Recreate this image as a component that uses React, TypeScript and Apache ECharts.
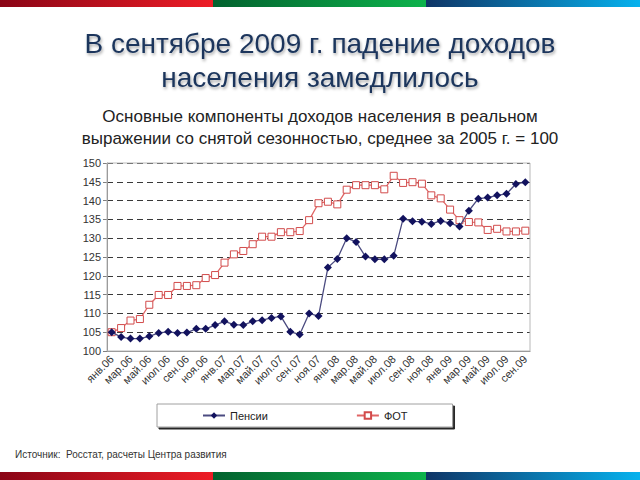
import React, { useEffect, useRef } from "react";
import * as echarts from "echarts";

const months = [
  "янв.06","фев.06","мар.06","апр.06","май.06","июн.06","июл.06","авг.06","сен.06","окт.06","ноя.06","дек.06",
  "янв.07","фев.07","мар.07","апр.07","май.07","июн.07","июл.07","авг.07","сен.07","окт.07","ноя.07","дек.07",
  "янв.08","фев.08","мар.08","апр.08","май.08","июн.08","июл.08","авг.08","сен.08","окт.08","ноя.08","дек.08",
  "янв.09","фев.09","мар.09","апр.09","май.09","июн.09","июл.09","авг.09","сен.09",
];

const pensions = [
  105.0, 103.7, 103.3, 103.3, 103.9, 104.8, 105.1, 104.8, 104.9, 105.9, 105.9, 106.9,
  107.9, 107.0, 106.9, 107.9, 108.2, 108.8, 109.2, 105.1, 104.4, 110.0, 109.3, 122.2,
  124.5, 130.0, 129.0, 125.1, 124.4, 124.4, 125.3, 135.2, 134.5, 134.4, 133.8, 134.6,
  134.0, 133.1, 137.3, 140.5, 140.8, 141.4, 141.8, 144.4, 144.9,
];

const fot = [
  105.0, 106.1, 108.1, 108.5, 112.3, 114.9, 114.9, 117.3, 117.3, 117.5, 119.4, 120.2,
  123.5, 125.7, 126.6, 128.4, 130.4, 130.4, 131.6, 131.6, 131.9, 134.8, 139.3, 139.7,
  139.0, 142.9, 144.1, 144.1, 144.1, 143.0, 146.6, 144.7, 144.9, 144.5, 141.4, 140.6,
  137.6, 134.8, 134.3, 134.2, 132.2, 132.5, 131.8, 131.8, 132.0,
];

const seriesNames = ["Пенсии", "ФОТ"];
const titleLines = ["В сентябре 2009 г. падение доходов", "населения замедлилось"];
const subtitleLines = [
  "Основные компоненты доходов населения в реальном",
  "выражении со снятой сезонностью, среднее за 2005 г. = 100",
];
const sourceText = "Источник:  Росстат, расчеты Центра развития";

const FONT = "'Liberation Sans', Arial, sans-serif";

function stripe(y: number, h: number) {
  const grad = (a: string, b: string) =>
    new echarts.graphic.LinearGradient(0, 0, 1, 0, [
      { offset: 0, color: a },
      { offset: 1, color: b },
    ]);
  return [
    { type: "rect", shape: { x: 0, y, width: 214, height: h }, style: { fill: grad("#8a0516", "#ee1d26") }, silent: true },
    { type: "rect", shape: { x: 213, y, width: 214, height: h }, style: { fill: grad("#03622f", "#0db34c") }, silent: true },
    { type: "rect", shape: { x: 426, y, width: 214, height: h }, style: { fill: grad("#0f3566", "#06b2ee") }, silent: true },
  ];
}

export default function App() {
  const ref = useRef<HTMLDivElement>(null);
  useEffect(() => {
    if (!ref.current) return;
    const chart = echarts.init(ref.current, undefined, { renderer: "svg" });
    const titleStyle = {
      fill: "#1b355c",
      font: `28px ${FONT}`,
      textAlign: "center",
      textShadowColor: "rgba(0,0,0,0.35)",
      textShadowBlur: 3,
      textShadowOffsetX: 1,
      textShadowOffsetY: 2,
    };
    const subStyle = { fill: "#222", font: `17px ${FONT}`, textAlign: "center" };
    chart.setOption({
      animation: false,
      backgroundColor: "#ffffff",
      textStyle: { fontFamily: FONT },
      grid: {
        left: 107,
        right: 110,
        top: 163,
        bottom: 129,
        show: true,
        borderColor: "#b8b8b8",
        borderWidth: 1,
        z: 1,
      },
      xAxis: {
        type: "category",
        data: months,
        boundaryGap: true,
        axisLine: { lineStyle: { color: "#7f7f7f" } },
        axisTick: { interval: 1, length: 4, lineStyle: { color: "#7f7f7f" } },
        axisLabel: { interval: 1, rotate: 45, fontSize: 11, color: "#333", margin: 6 },
        splitLine: { show: false },
      },
      yAxis: {
        type: "value",
        min: 100,
        max: 150,
        interval: 5,
        axisLine: { show: true, lineStyle: { color: "#7f7f7f" } },
        axisTick: { show: true, length: 4, lineStyle: { color: "#7f7f7f" } },
        axisLabel: { fontSize: 11, color: "#333", margin: 6 },
        splitLine: { show: true, lineStyle: { color: "#3a3a3a", type: [6, 4], width: 1 } },
      },
      legend: {
        left: 157,
        top: 404,
        padding: [6, 45, 6, 45],
        itemGap: 88,
        itemWidth: 22,
        itemHeight: 8,
        backgroundColor: "#ffffff",
        borderColor: "#a0a0a0",
        borderWidth: 1,
        borderRadius: 0,
        shadowColor: "rgba(0,0,0,0.85)",
        shadowOffsetX: 2,
        shadowOffsetY: 2,
        shadowBlur: 0,
        textStyle: { fontSize: 11, color: "#222" },
        data: seriesNames,
      },
      series: [
        {
          name: seriesNames[0],
          type: "line",
          data: pensions,
          symbol: "diamond",
          symbolSize: 8,
          showSymbol: true,
          showAllSymbol: true,
          itemStyle: { color: "#12125e" },
          lineStyle: { color: "#4b4b80", width: 1.3 },
          z: 3,
        },
        {
          name: seriesNames[1],
          type: "line",
          data: fot,
          symbol: "rect",
          symbolSize: 7,
          showSymbol: true,
          showAllSymbol: true,
          itemStyle: { color: "#ffffff", borderColor: "#d24b4b", borderWidth: 1 },
          lineStyle: { color: "#e06565", width: 1.3 },
          z: 2,
        },
      ],
      graphic: [
        ...stripe(0, 7),
        ...stripe(472, 8),
        { type: "text", x: 320, y: 29, style: { ...titleStyle, text: titleLines[0] }, silent: true },
        { type: "text", x: 320, y: 63, style: { ...titleStyle, text: titleLines[1] }, silent: true },
        { type: "text", x: 320, y: 108, style: { ...subStyle, text: subtitleLines[0] }, silent: true },
        { type: "text", x: 320, y: 130, style: { ...subStyle, text: subtitleLines[1] }, silent: true },
        {
          type: "text",
          x: 15,
          y: 449,
          style: { text: sourceText, fill: "#333", font: `10px ${FONT}` },
          silent: true,
        },
      ],
    });
    return () => chart.dispose();
  }, []);
  return (
    <div
      ref={ref}
      style={{ position: "absolute", left: 0, top: 0, width: 640, height: 480 }}
    />
  );
}
